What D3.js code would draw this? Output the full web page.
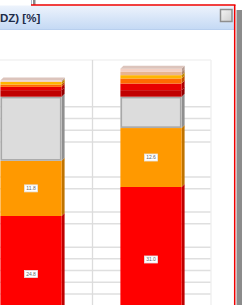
<!DOCTYPE html>
<html>
<head>
<meta charset="utf-8">
<script src="https://cdn.jsdelivr.net/npm/d3@7"></script>
<style>
  html, body { margin: 0; padding: 0; background: #fff; overflow: hidden; }
  svg { display: block; }
</style>
</head>
<body>
<div id="chart"></div>
<script>
// chart data (values in %)
const categories = ["Gruppe 1", "Gruppe 2"];
const seriesKeys = ["s1", "s2", "s3", "s4", "s5", "s6", "s7", "s8", "s9"];
const s1 = [24.8, 31.0];
const s2 = [11.8, 12.6];
const s3 = [13.7, 6.7];
const s4 = [1.4, 1.4];
const s5 = [0.7, 1.4];
const s6 = [0.5, 1.1];
const s7 = [0.55, 0.7];
const s8 = [0, 0.7];
const s9 = [0.3, 0.7];
const labelledKeys = ["s1", "s2"];
const gridValues = [7.5, 10, 12.5, 15, 17.5, 22.5, 25, 30, 32.5, 40, 42.5, 45, 47.5];
const topValue = 57.5;
const titleText = "DZ) [%]";

// styling
const seriesColors = ["#ff0000", "#ff9900", "#dcdcdc", "#c00000", "#e80000", "#ff6a00", "#ffb400", "#e9b48f", "#f3cfc2"];

const width = 242, height = 305;
const depth = 3;
const plot = {left: -29, right: 211, top: 60, base: 332};

const table = categories.map((c, i) => {
  const row = {cat: c};
  [s1, s2, s3, s4, s5, s6, s7, s8, s9].forEach((arr, k) => row[seriesKeys[k]] = arr[i]);
  return row;
});

const stacked = d3.stack().keys(seriesKeys)(table);

const x = d3.scaleBand()
  .domain(categories)
  .range([plot.left, plot.right])
  .paddingInner(0.49)
  .paddingOuter(0.245);

const y = d3.scaleLinear()
  .domain([0, topValue])
  .range([plot.base, plot.base - topValue * 4.678]);

const color = d3.scaleOrdinal().domain(seriesKeys).range(seriesColors);

const svg = d3.select("#chart").append("svg")
  .attr("width", width)
  .attr("height", height)
  .attr("viewBox", [0, 0, width, height])
  .attr("font-family", "'Liberation Sans', Arial, sans-serif");

const defs = svg.append("defs");
const titleGrad = defs.append("linearGradient")
  .attr("id", "titleGrad")
  .attr("x1", "0%").attr("x2", "0%")
  .attr("y1", "0%").attr("y2", "100%");
titleGrad.append("stop").attr("offset", "0").attr("stop-color", "#edf3fc");
titleGrad.append("stop").attr("offset", "1").attr("stop-color", "#c4d9f4");

const boxGrad = defs.append("linearGradient")
  .attr("id", "boxGrad")
  .attr("x1", "0%").attr("x2", "100%")
  .attr("y1", "0%").attr("y2", "100%");
boxGrad.append("stop").attr("offset", "0").attr("stop-color", "#f4f4f4");
boxGrad.append("stop").attr("offset", "1").attr("stop-color", "#cfcfcf");

svg.append("rect")
  .attr("width", width).attr("height", height)
  .attr("fill", "#fff");

// window behind (top left)
svg.append("rect")
  .attr("x", 31).attr("y", 0).attr("width", 1).attr("height", 5)
  .attr("fill", "#a9b8cc");
svg.append("rect")
  .attr("x", 33).attr("y", 0).attr("width", 2.5).attr("height", 5)
  .attr("fill", "#8a8a8a");

// title bar
svg.append("rect")
  .attr("x", 0).attr("y", 5.5).attr("width", 234).attr("height", 24)
  .attr("fill", "url(#titleGrad)");
svg.append("line")
  .attr("x1", 0).attr("x2", 234)
  .attr("y1", 29.5).attr("y2", 29.5)
  .attr("stroke", "#b8cfee");

svg.append("text")
  .attr("x", 0)
  .attr("y", 21.5)
  .attr("font-size", 11.5)
  .attr("font-weight", "bold")
  .attr("fill", "#1c2b48")
  .text(titleText);

// close box
svg.append("rect")
  .attr("x", 220.5).attr("y", 9.5).attr("width", 11.5).attr("height", 12)
  .attr("fill", "url(#boxGrad)")
  .attr("stroke", "#8e8e8e")
  .attr("stroke-width", 1.5);

// grid (back wall)
const grid = svg.append("g");
grid.append("line")
  .attr("x1", 0).attr("x2", plot.right)
  .attr("y1", y(topValue) - depth).attr("y2", y(topValue) - depth)
  .attr("stroke", "#f2f2f2")
  .attr("stroke-width", 1.3);

grid.selectAll("line.h")
  .data(gridValues)
  .join("line")
  .attr("class", "h")
  .attr("x1", 0)
  .attr("x2", plot.right)
  .attr("y1", d => y(d) - depth)
  .attr("y2", d => y(d) - depth)
  .attr("stroke", "#dfdfdf")
  .attr("stroke-width", 1.5);

const step = x.step(), gap = step - x.bandwidth();
const vLines = categories.map(c => x(c) - gap / 2 + 1.5).concat([plot.right]).filter(v => v > 0);
grid.selectAll("line.v")
  .data(vLines)
  .join("line")
  .attr("class", "v")
  .attr("x1", d => d).attr("x2", d => d)
  .attr("y1", plot.top).attr("y2", height)
  .attr("stroke", (d, i) => i === vLines.length - 1 ? "#efefef" : "#dcdcdc")
  .attr("stroke-width", 1.3);

// bars
const bars = svg.append("g");
stacked.forEach(layer => {
  const c = color(layer.key);
  const g = bars.append("g");
  layer.forEach((d, i) => {
    const cat = categories[i];
    const x0 = x(cat), w = x.bandwidth();
    const yTop = y(d[1]), yBot = y(d[0]);
    if (yBot - yTop <= 0) return;
    // side face
    g.append("path")
      .attr("d", `M${x0 + w},${yBot}L${x0 + w + depth},${yBot - depth}L${x0 + w + depth},${yTop - depth}L${x0 + w},${yTop}Z`)
      .attr("fill", d3.color(c).darker(layer.key === "s3" ? 1.2 : 0.8));
    // front face
    g.append("rect")
      .attr("x", x0)
      .attr("y", yTop)
      .attr("width", w)
      .attr("height", yBot - yTop)
      .attr("fill", c);
    if (layer.key === "s3") {
      g.append("rect")
        .attr("x", x0 + 0.9)
        .attr("y", yTop + 0.9)
        .attr("width", w - 1.8)
        .attr("height", yBot - yTop - 1.8)
        .attr("fill", "none")
        .attr("stroke", "#a8a8a8")
        .attr("stroke-width", 1.6);
    }
  });
});

// top faces
const topLayer = stacked[stacked.length - 1];
bars.selectAll("path.top")
  .data(topLayer)
  .join("path")
  .attr("class", "top")
  .attr("d", (d, i) => {
    const x0 = x(categories[i]), w = x.bandwidth(), t = y(d[1]);
    return `M${x0},${t}L${x0 + depth},${t - depth}L${x0 + w + depth},${t - depth}L${x0 + w},${t}Z`;
  })
  .attr("fill", "#dcc4bc");

// value labels
const fmt = d3.format(".1f");
const labels = svg.append("g");
stacked.filter(l => labelledKeys.includes(l.key)).forEach(layer => {
  layer.forEach((d, i) => {
    const cx = x(categories[i]) + x.bandwidth() / 2;
    const cy = (y(d[0]) + y(d[1])) / 2;
    const lg = labels.append("g").attr("transform", `translate(${cx},${cy})`);
    lg.append("rect")
      .attr("x", -6.5).attr("y", -3.5)
      .attr("width", 13).attr("height", 7)
      .attr("fill", "#fff")
      .attr("stroke", "#e4e4e4")
      .attr("stroke-width", 0.8);
    lg.append("text")
      .attr("text-anchor", "middle")
      .attr("y", 1.8)
      .attr("font-size", 5)
      .attr("fill", "#666")
      .text(fmt(d[1] - d[0]));
  });
});

// panel border
svg.append("line")
  .attr("x1", 31).attr("x2", 235.5)
  .attr("y1", 5).attr("y2", 5)
  .attr("stroke", "#ee0000")
  .attr("stroke-width", 1.5);
svg.append("line")
  .attr("x1", 234.7).attr("x2", 234.7)
  .attr("y1", 5).attr("y2", height)
  .attr("stroke", "#ee0000")
  .attr("stroke-width", 1.5);

// neighbour window edge
svg.append("rect")
  .attr("x", 236.5).attr("y", 10)
  .attr("width", 6).attr("height", height - 10)
  .attr("fill", "#8b8b8b");
</script>
</body>
</html>
